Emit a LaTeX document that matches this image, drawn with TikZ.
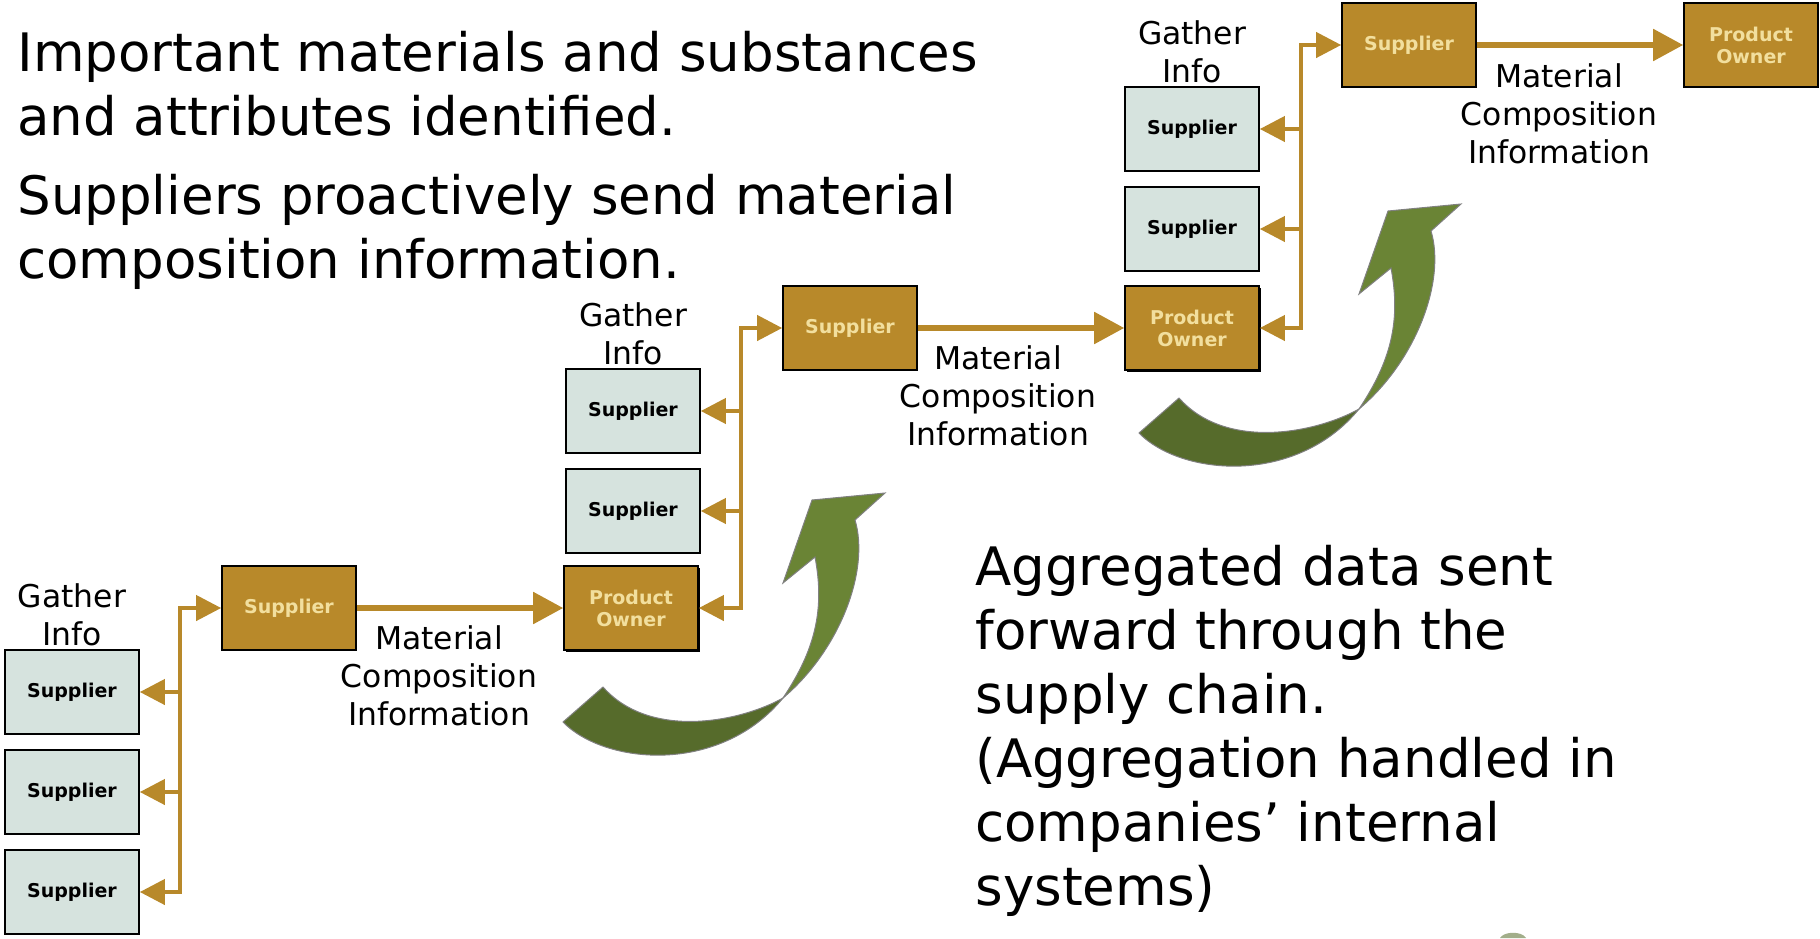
\documentclass[tikz,border=0pt]{standalone}
\usepackage{fontspec}
\setmainfont{DejaVu Sans}
\usetikzlibrary{arrows.meta,shadows}
\definecolor{boxbrown}{HTML}{B8892A}
\definecolor{boxtext}{HTML}{F2DF9E}
\definecolor{boxgray}{HTML}{D6E3DE}
\definecolor{arrowlight}{HTML}{6A8435}
\definecolor{arrowdark}{HTML}{566B2B}
\definecolor{arrowedge}{HTML}{808080}
\begin{document}
\begin{tikzpicture}[x=0.5pt,y=-0.5pt, every text node part/.style={align=center}]
        \tikzset{
          supbox/.style={draw=black, line width=0.8pt, fill=boxgray, minimum width=67pt,
            minimum height=42pt, inner sep=0pt, font=\fontsize{9.5}{11}\selectfont\bfseries},
          ownbox/.style={supbox, fill=boxbrown, text=boxtext},
          shadowbox/.style={ownbox, drop shadow={shadow xshift=1pt, shadow yshift=-1pt, opacity=1, fill=black}},
          link/.style={draw=boxbrown, line width=2pt},
          flow/.style={draw=boxbrown, line width=2.6pt, -{Triangle[length=15pt,width=15.5pt]}},
          gather/.style={font=\fontsize{15.7}{19}\selectfont, inner sep=0pt},
          bigtext/.style={font=\fontsize{26.5}{32}\selectfont, every text node part/.style={align=left},
            anchor=west, inner sep=0pt},
          >={Triangle[length=12.5pt,width=12.5pt]},
        }
        \useasboundingbox (0,0) rectangle (1820,938);
        % green arrows
        \fill[arrowdark, draw=arrowedge, line width=0.5pt] (563,722) .. controls (605,765) and (720,775) .. (783,698)
          .. controls (740,722) and (650,740) .. (603,687) -- cycle;
        \fill[arrowlight, draw=arrowedge, line width=0.5pt] (783,698) .. controls (840,650) and (870,570) .. (855,520)
          -- (885,493) -- (812,500) -- (783,583) -- (815,557) .. controls (825,610) and (815,650) .. (783,698) -- cycle;
        \begin{scope}[shift={(576,-289)}]
        \fill[arrowdark, draw=arrowedge, line width=0.5pt] (563,722) .. controls (605,765) and (720,775) .. (783,698)
          .. controls (740,722) and (650,740) .. (603,687) -- cycle;
        \fill[arrowlight, draw=arrowedge, line width=0.5pt] (783,698) .. controls (840,650) and (870,570) .. (855,520)
          -- (885,493) -- (812,500) -- (783,583) -- (815,557) .. controls (825,610) and (815,650) .. (783,698) -- cycle;
        \end{scope}
        \fill[arrowdark!55!white] (1500,938) .. controls (1504,931) and (1522,931) .. (1526,938) -- cycle;
        %
        \node[bigtext] (info1) at (17,84) {Important materials and substances\\and attributes identified.};
        \node[bigtext] (info2) at (17,232) {Suppliers proactively send material\\composition information.};
        \node[bigtext] (aggr) at (975,731) {Aggregated data sent\\forward through the\\supply chain.\\(Aggregation handled in\\companies’ internal\\systems)};
        %
        \node[supbox] (s1a) at (72,692) {Supplier};
        \node[supbox] (s1b) at (72,792) {Supplier};
        \node[supbox] (s1c) at (72,892) {Supplier};
        \node[ownbox] (sup1) at (289,608) {Supplier};
        \node[shadowbox] (po1) at (631,608) {Product\\Owner};
        \node[gather] (g1) at (72,615) {Gather\\Info};
        \node[gather] (m1) at (439,676) {Material\\Composition\\Information};
        \coordinate (t1top) at (180,608);
        \coordinate (t1bot) at (180,892);
        \draw[link,<->] (s1c.east) -- (t1bot) -- (t1top) -- (sup1.west);
        \draw[link,->] (t1top |- s1a) -- (s1a.east);
        \draw[link,->] (t1top |- s1b) -- (s1b.east);
        \draw[flow] (sup1.east) -- (po1.west);
        %
        \node[supbox] (s2a) at (633,411) {Supplier};
        \node[supbox] (s2b) at (633,511) {Supplier};
        \node[ownbox] (sup2) at (850,328) {Supplier};
        \node[shadowbox] (po2) at (1192,328) {Product\\Owner};
        \node[gather] (g2) at (633,334) {Gather\\Info};
        \node[gather] (m2) at (998,396) {Material\\Composition\\Information};
        \coordinate (t2top) at (741,328);
        \coordinate (t2bot) at (741,608);
        \draw[link,<->] (po1.east) -- (t2bot) -- (t2top) -- (sup2.west);
        \draw[link,->] (t2top |- s2a) -- (s2a.east);
        \draw[link,->] (t2top |- s2b) -- (s2b.east);
        \draw[flow] (sup2.east) -- (po2.west);
        %
        \node[supbox] (s3a) at (1192,129) {Supplier};
        \node[supbox] (s3b) at (1192,229) {Supplier};
        \node[ownbox] (sup3) at (1409,45) {Supplier};
        \node[ownbox] (po3) at (1751,45) {Product\\Owner};
        \node[gather] (g3) at (1192,52) {Gather\\Info};
        \node[gather] (m3) at (1559,114) {Material\\Composition\\Information};
        \coordinate (t3top) at (1301,45);
        \coordinate (t3bot) at (1301,328);
        \draw[link,<->] (po2.east) -- (t3bot) -- (t3top) -- (sup3.west);
        \draw[link,->] (t3top |- s3a) -- (s3a.east);
        \draw[link,->] (t3top |- s3b) -- (s3b.east);
        \draw[flow] (sup3.east) -- (po3.west);
    \end{tikzpicture}
\end{document}
